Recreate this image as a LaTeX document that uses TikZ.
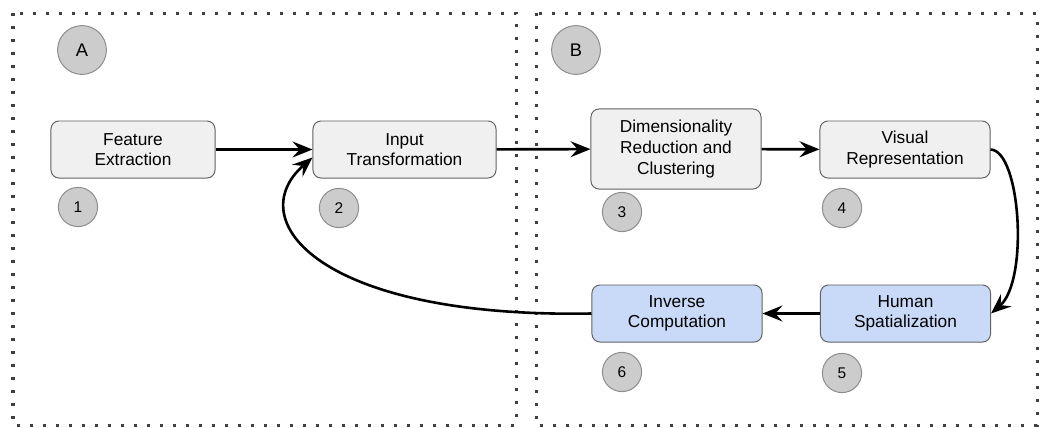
\documentclass[tikz,border=0pt]{standalone}
\usepackage{fontspec}
\setmainfont{Liberation Sans}
\usetikzlibrary{arrows.meta}

\definecolor{boxgray}{HTML}{F0F0F0}
\definecolor{boxblue}{HTML}{C9DAF8}
\definecolor{markgray}{HTML}{CCCCCC}
\def\px{0.025cm}

\begin{document}
\begin{tikzpicture}[x=\px, y=-\px, nodes = {font=\fontsize{12.3}{14.6}\selectfont},
    procbox/.style = {draw=black!62, fill=boxgray, line width=0.7pt,
      rounded corners=0.2cm, align=center, minimum width=4.25cm,
      minimum height=1.425cm, inner sep=2pt},
    userbox/.style = {procbox, fill=boxblue},
    stepmark/.style = {circle, draw=black!45, fill=markgray, line width=0.7pt,
      minimum size=0.98cm, inner sep=0pt, font=\fontsize{11}{13}\selectfont},
    partmark/.style = {stepmark, minimum size=1.22cm, font=\fontsize{13}{15}\selectfont},
    partframe/.style = {draw=black!75, line width=0.075cm,
      dash pattern=on 0.075cm off 0.25cm},
    flow/.style = {line width=0.065cm, -{Stealth[length=0.5cm, width=0.4cm, inset=0.18cm]}}]
  \useasboundingbox (0,0) rectangle (1048,428);
  % The two parts
  \draw[partframe] (13,13) rectangle (516,425);
  \draw[partframe] (536,13) rectangle (1037,425);
  \node[partmark] (pa) at (82,50) {A};
  \node[partmark] (pb) at (576,50) {B};
  % Pipeline steps
  \node[procbox, minimum width=4.1cm] (fe) at (133,149.5) {Feature\\Extraction};
  \node[procbox, minimum width=4.575cm] (it) at (404.5,149.5) {Input\\Transformation};
  \node[procbox, minimum height=2cm] (dr) at (676,149) {Dimensionality\\Reduction and\\Clustering};
  \node[procbox] (vr) at (905,149.5) {Visual\\Representation};
  \node[userbox] (ic) at (677,313.5) {Inverse\\Computation};
  \node[userbox] (hs) at (905.5,313.5) {Human\\Spatialization};
  % Step numbers
  \foreach \num/\x/\y in {
      1/78/207,
      2/339/208,
      3/622/212,
      4/842/208,
      5/842/373,
      6/622/372
    } {
      \node[stepmark] (s\num) at (\x,\y) {\num};
    };
  % Connectors
  \draw[flow] (fe) -- (it);
  \draw[flow] (it) -- (dr);
  \draw[flow] (dr) -- (vr);
  \draw[flow] (vr.east) .. controls +(30,1) and +(38,-33) .. (hs.east);
  \draw[flow] (hs) -- (ic);
  \draw[flow] (ic.west) .. controls +(-272,5) and +(-72,63) .. ([yshift=-0.2cm]it.west);
\end{tikzpicture}
\end{document}
